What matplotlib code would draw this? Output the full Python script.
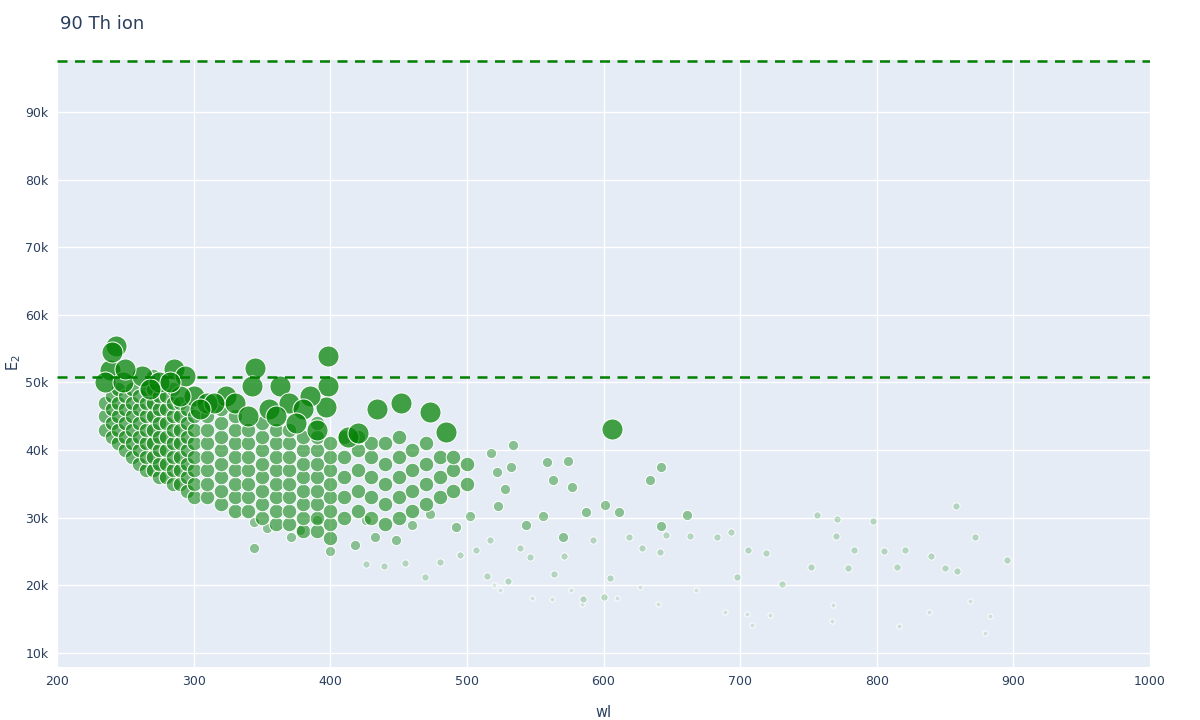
import matplotlib
matplotlib.use("Agg")
import matplotlib.pyplot as plt
from matplotlib.ticker import FuncFormatter

# Data: lines grouped by strength class (wl in nm, E2 in thousands of cm-1)
strong_wl = [239, 243, 240, 345, 398, 363, 398, 397, 434, 452, 286, 294, 324, 343, 385,
             235, 248, 262, 275, 300, 310, 330, 355, 370, 380, 250, 268, 290, 315, 340,
             360, 375, 390, 283, 305, 606, 485, 473, 413, 420]
strong_e2 = [51.8, 55.4, 54.5, 52.1, 53.9, 49.5, 49.5, 46.4, 46.1, 47.0, 52.0, 51.0, 48.0, 49.5, 48.0,
             50.0, 50.0, 51.0, 50.0, 48.0, 47.0, 47.0, 46.0, 47.0, 46.0, 52.0, 49.0, 48.0, 47.0, 45.0,
             45.0, 44.0, 43.0, 50.0, 46.0, 43.1, 42.7, 45.6, 42.0, 42.5]

medium_cols = {
    235: [45, 43, 47],
    240: [42, 44, 46, 48],
    245: [41, 43, 45, 47, 49],
    250: [40, 42, 44, 46, 48],
    255: [39, 41, 43, 45, 47, 49],
    260: [38, 40, 42, 44, 46, 48],
    265: [37, 39, 41, 43, 45, 47, 49],
    270: [37, 39, 41, 43, 45, 47, 49, 51],
    275: [36, 38, 40, 42, 44, 46, 48],
    280: [36, 38, 40, 42, 44, 46, 48],
    285: [35, 37, 39, 41, 43, 45, 47, 49],
    290: [35, 37, 39, 41, 43, 45, 47],
    295: [34, 36, 38, 40, 42, 44, 46],
    300: [33, 35, 37, 39, 41, 43, 45],
    310: [33, 35, 37, 39, 41, 43, 45],
    320: [32, 34, 36, 38, 40, 42, 44, 46],
    330: [31, 33, 35, 37, 39, 41, 43, 45],
    340: [31, 33, 35, 37, 39, 41, 43],
    350: [30, 32, 34, 36, 38, 40, 42, 44],
    360: [29, 31, 33, 35, 37, 39, 41, 43],
    370: [29, 31, 33, 35, 37, 39, 41, 43],
    380: [28, 30, 32, 34, 36, 38, 40, 42],
    390: [28, 30, 32, 34, 36, 38, 40, 42, 44],
    400: [27, 29, 31, 33, 35, 37, 39, 41],
    410: [30, 33, 36, 39, 42],
    420: [31, 34, 37, 40, 42],
    430: [30, 33, 36, 39, 41],
    440: [29, 32, 35, 38, 41],
    450: [30, 33, 36, 39, 42],
    460: [31, 34, 37, 40],
    470: [32, 35, 38, 41],
    480: [33, 36, 39],
    490: [34, 37, 39],
    500: [35, 38],
}

weak_wl = [534, 559, 574, 642, 634, 563, 577, 518, 522, 532, 601, 611, 556, 642, 661, 523, 502,
           492, 473, 460, 448, 433, 426, 418, 400, 390, 378, 354, 344, 344, 371, 528, 587, 570, 543]
weak_e2 = [40.8, 38.2, 38.4, 37.5, 35.6, 35.6, 34.5, 39.6, 36.8, 37.5, 31.9, 30.8, 30.3, 28.8, 30.4, 31.7, 30.3,
           28.6, 30.6, 28.9, 26.7, 27.2, 29.7, 26.0, 25.0, 29.7, 28.2, 28.4, 29.4, 25.5, 27.2, 34.3, 30.8, 27.2, 28.9]

faint_wl = [756, 771, 797, 858, 872, 840, 859, 895, 706, 693, 683, 719, 752, 770, 783, 805, 821, 779, 815,
            850, 646, 663, 619, 628, 605, 571, 564, 546, 539, 517, 507, 495, 480, 469, 455, 439, 426, 592,
            698, 731, 641, 515, 530, 585, 600]
faint_e2 = [30.4, 29.8, 29.5, 31.7, 27.2, 24.3, 22.1, 23.8, 25.2, 27.9, 27.2, 24.8, 22.7, 27.3, 25.2, 25.1, 25.2, 22.6, 22.7,
            22.6, 27.5, 27.3, 27.2, 25.5, 21.1, 24.3, 21.7, 24.2, 25.5, 26.7, 25.2, 24.5, 23.5, 21.2, 23.3, 22.9, 23.2, 26.7,
            21.2, 20.2, 24.9, 21.4, 20.6, 18.0, 18.3]

vfaint_wl = [562, 548, 576, 610, 640, 668, 689, 705, 722, 709, 768, 767, 838, 868, 883, 879, 816, 584, 524, 520, 627]
vfaint_e2 = [18.0, 18.1, 19.3, 18.1, 17.2, 19.3, 16.1, 15.8, 15.6, 14.1, 17.1, 14.7, 16.1, 17.7, 15.5, 13.0, 14.0, 17.2,
             19.3, 20.1, 19.8]

ref_levels = [97.5, 50.8]

medium_wl = [w for w, es in medium_cols.items() for _ in es]
medium_e2 = [e for es in medium_cols.values() for e in es]

fig = plt.figure(figsize=(12, 7.2), dpi=100)
ax = fig.add_axes([57 / 1200, 1 - 667 / 720, (1150 - 57) / 1200, (667 - 60) / 720])
ax.set_facecolor("#E5ECF6")
for s in ax.spines.values():
    s.set_visible(False)
ax.grid(True, color="white", linewidth=1)
ax.set_axisbelow(True)

groups = [
    (vfaint_wl, vfaint_e2, 14, 0.1),
    (faint_wl, faint_e2, 28, 0.22),
    (weak_wl, weak_e2, 55, 0.4),
    (medium_wl, medium_e2, 110, 0.55),
    (strong_wl, strong_e2, 230, 0.72),
]
for xs, ys, size, alpha in groups:
    ax.scatter(xs, [y * 1000 for y in ys], s=size, color=(0.0, 0.5, 0.0, alpha),
               edgecolors="white", linewidths=0.7, zorder=3)

for lvl in ref_levels:
    ax.axhline(lvl * 1000, color="green", linestyle=(0, (4, 3)), linewidth=1.8, zorder=4)

ax.set_xlim(200, 1000)
ax.set_ylim(7900, 97700)
ax.set_xticks(range(200, 1001, 100))
ax.set_yticks(range(10000, 90001, 10000))
ax.yaxis.set_major_formatter(FuncFormatter(lambda v, p: f"{int(v / 1000)}k"))
ax.tick_params(length=0, labelsize=9, colors="#2a3f5f", pad=6)

ax.set_xlabel("wl", fontsize=10.5, color="#2a3f5f", labelpad=12)
fig.text(14 / 1200, 1 - 363 / 720, "E$_2$", fontsize=10.5, color="#2a3f5f",
         rotation=90, ha="center", va="center")
fig.text(60 / 1200, 1 - 24 / 720, "90 Th ion", fontsize=13, color="#2a3f5f", va="center")

fig.savefig("out.png")
